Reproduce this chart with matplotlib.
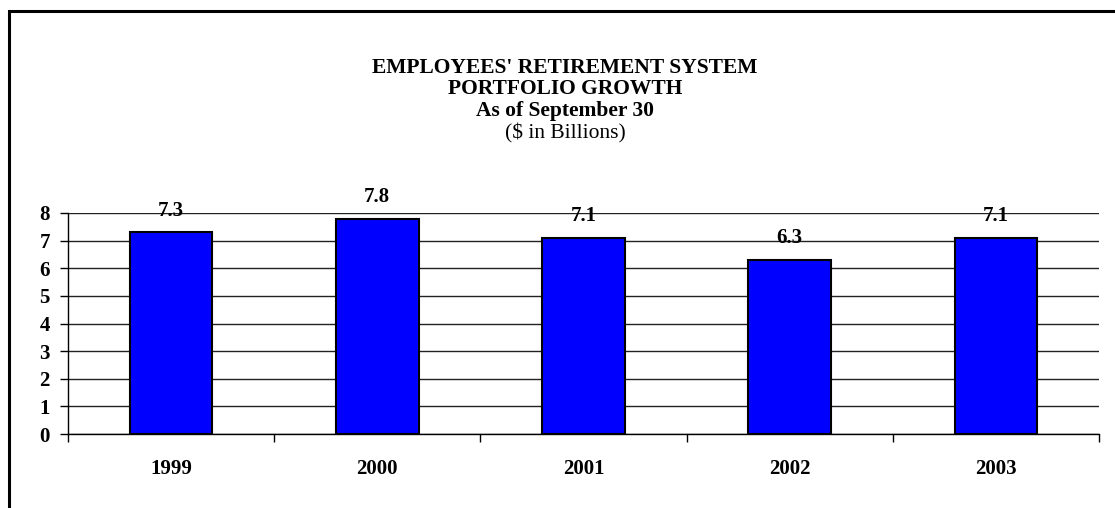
"""Employees' Retirement System portfolio growth bar chart."""
import matplotlib
matplotlib.use("Agg")
import matplotlib.pyplot as plt
from matplotlib.lines import Line2D

years = ["1999", "2000", "2001", "2002", "2003"]
values = [7.3, 7.8, 7.1, 6.3, 7.1]
y_ticks = [0, 1, 2, 3, 4, 5, 6, 7, 8]

title_lines = [
    ("EMPLOYEES' RETIREMENT SYSTEM", "bold"),
    ("PORTFOLIO GROWTH", "bold"),
    ("As of September 30", "bold"),
    ("($ in Billions)", "normal"),
]

plt.rcParams["font.family"] = ["Liberation Serif", "DejaVu Serif"]
FS = 15
FS_TITLE = 15.5

W, H = 1115, 508
fig = plt.figure(figsize=(W / 100, H / 100), dpi=100)
ax = fig.add_axes([68 / W, 1 - 434 / H, (1099 - 68) / W, (434 - 213) / H])

x = list(range(len(years)))
ax.bar(x, values, width=0.4, color="#0000FF", edgecolor="black",
       linewidth=1.5, zorder=3)
for xi, v in zip(x, values):
    ax.annotate(f"{v:.1f}", (xi, v), xytext=(0, 12), textcoords="offset points",
                ha="center", va="baseline", fontsize=FS, fontweight="bold")

ax.set_xlim(-0.5, len(years) - 0.5)
ax.set_ylim(0, 8)
ax.set_yticks(y_ticks)
ax.set_yticklabels([str(t) for t in y_ticks], fontsize=FS, fontweight="bold")
ax.yaxis.grid(True, color="#222222", linewidth=1.0, zorder=0)
ax.set_axisbelow(True)

# ticks at category boundaries, labels at centers
ax.set_xticks([i - 0.5 for i in range(len(years) + 1)])
ax.set_xticklabels([])
ax.set_xticks(x, minor=True)
ax.set_xticklabels(years, minor=True, fontsize=FS, fontweight="bold")
ax.tick_params(axis="x", which="major", direction="out", length=6, width=1)
ax.tick_params(axis="x", which="minor", length=0, pad=18)
ax.tick_params(axis="y", direction="out", length=6, width=1, pad=7)

for side in ("top", "right"):
    ax.spines[side].set_visible(False)
for side in ("left", "bottom"):
    ax.spines[side].set_linewidth(1.0)
    ax.spines[side].set_color("black")

# title block
title_y = [68, 89, 111, 133]
for (txt, weight), ty in zip(title_lines, title_y):
    fig.text(565 / W, 1 - ty / H, txt, ha="center", va="center",
             fontsize=FS_TITLE, fontweight=weight)

# clipped outer frame (left and top edges only visible)
fig.add_artist(Line2D([8.5 / W, 8.5 / W, 1.0], [0.0, 1 - 10.5 / H, 1 - 10.5 / H],
                      transform=fig.transFigure, color="black", linewidth=2.2,
                      solid_joinstyle="miter"))

fig.savefig("out.png", dpi=100)
